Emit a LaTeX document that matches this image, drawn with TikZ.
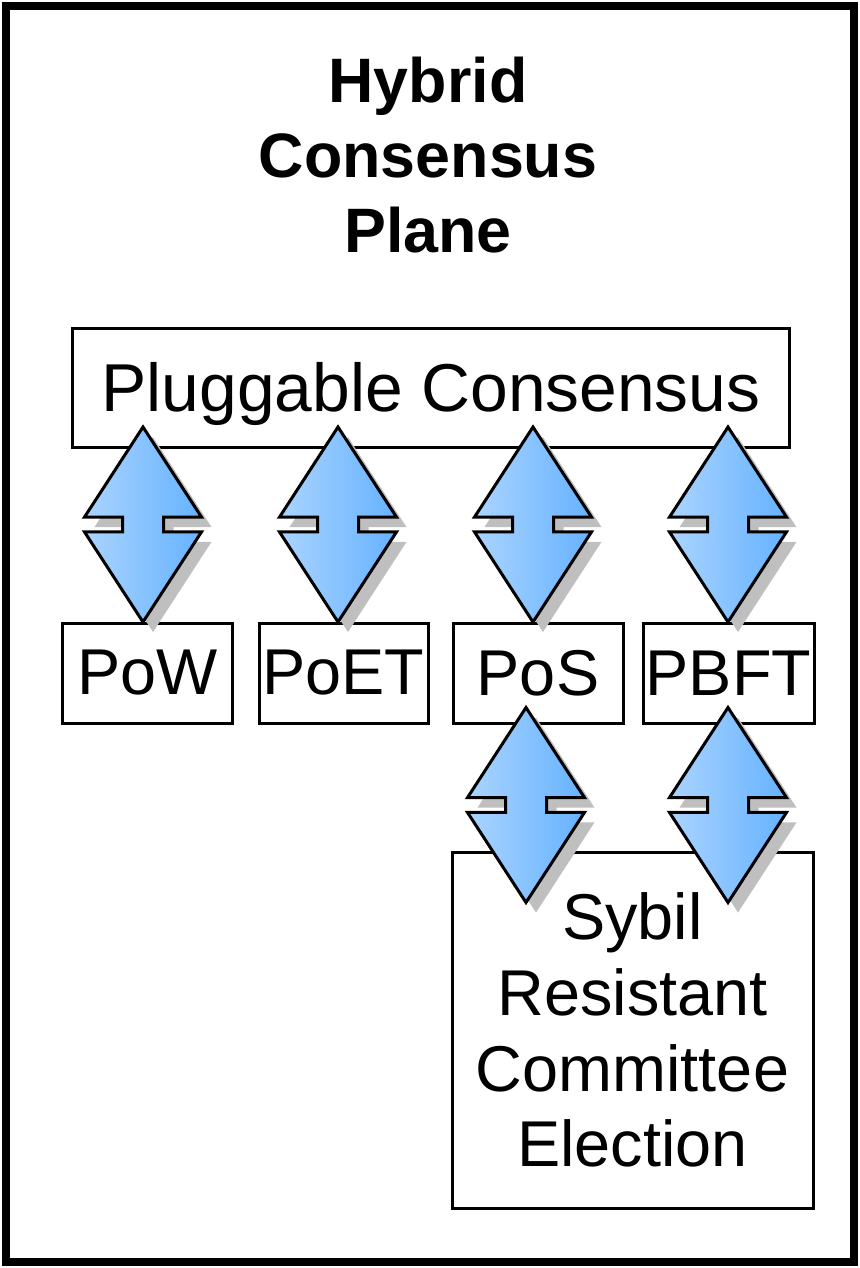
\documentclass[tikz,border=0pt]{standalone}
\usepackage{fontspec}
\setmainfont{Liberation Sans}
\usetikzlibrary{positioning,shapes.arrows,shadows}

\definecolor{arrowlight}{RGB}{170,212,255}
\definecolor{arrowdark}{RGB}{102,178,255}

\begin{document}
\begin{tikzpicture}[
x=1bp,y=-1bp,
box/.style={draw,line width=3bp,fill=white,inner sep=0pt,align=center,font=\fontsize{65}{76}\selectfont},
title/.style={align=center,font=\fontsize{63}{75}\selectfont\bfseries},
dbl/.style={double arrow,draw,line width=3bp,rotate=90,inner xsep=0pt,inner ysep=19bp,
  minimum height=195bp,minimum width=115bp,double arrow head extend=38bp,double arrow tip angle=66,
  left color=arrowlight,right color=arrowdark,
  drop shadow={shadow xshift=10bp,shadow yshift=-10bp,fill=black!25,opacity=1}}
]
\useasboundingbox (0,0) rectangle (860,1268);
\draw[line width=8bp] (6,6) rectangle (854,1262);

\node[title] (plane) at (428,155) {Hybrid\\Consensus\\Plane};

\node[box,minimum width=716bp,minimum height=119bp,text height=47bp,text depth=0pt,
  font=\fontsize{68}{76}\selectfont] (plug) at (431,387.5) {Pluggable Consensus};
\node[box,minimum width=169bp,minimum height=100bp] (pow) at (147.5,673) {PoW};
\node[box,minimum width=169bp,minimum height=100bp] (poet) at (343.5,673) {PoET};
\node[box,minimum width=170bp,minimum height=100bp] (pos) at (538,673) {PoS};
\node[box,minimum width=171bp,minimum height=100bp] (pbft) at (728.5,673) {PBFT};
\node[box,minimum width=361bp,minimum height=356bp] (sybil) at (632.5,1030) {Sybil\\Resistant\\Committee\\Election};

% plug <-> algorithms
\node[dbl] (a1) at (143,524.5) {};
\node[dbl] (a2) at (338,524.5) {};
\node[dbl] (a3) at (533,524.5) {};
\node[dbl] (a4) at (728,524.5) {};
% algorithms <-> committee
\node[dbl] (a5) at (526,805) {};
\node[dbl] (a6) at (728,805) {};
\end{tikzpicture}
\end{document}
